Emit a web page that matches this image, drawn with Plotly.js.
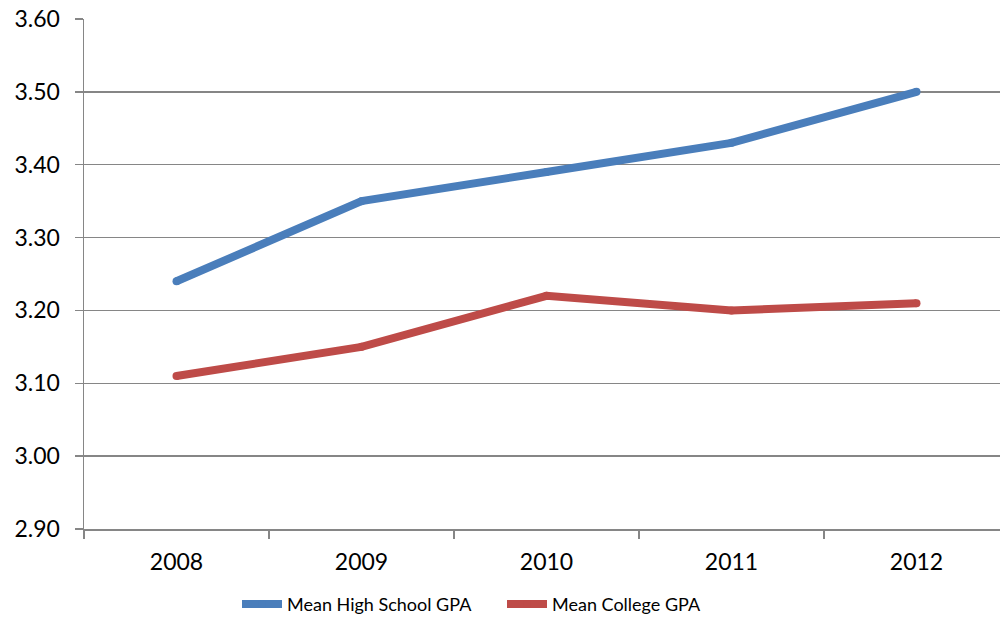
<!DOCTYPE html>
<html>
<head>
<meta charset="utf-8">
<script src="https://cdn.plot.ly/plotly-3.0.1.min.js"></script>
<style>html,body{margin:0;padding:0;overflow:hidden;background:#fff;}#chart{width:1000px;height:618px;}</style>
</head>
<body>
<div id="chart"></div>
<script>
const years = ["2008", "2009", "2010", "2011", "2012"];
const highSchoolGPA = [3.24, 3.35, 3.39, 3.43, 3.50];
const collegeGPA = [3.11, 3.15, 3.22, 3.20, 3.21];
const yTicks = [2.9, 3.0, 3.1, 3.2, 3.3, 3.4, 3.5, 3.6];

const font = "Lato, 'Open Sans', sans-serif";
const traces = [
  {x: years, y: highSchoolGPA, name: "Mean High School GPA", type: "scatter", mode: "lines+markers",
   line: {color: "#4A7EBB", width: 8}, marker: {color: "#4A7EBB", size: 8}},
  {x: years, y: collegeGPA, name: "Mean College GPA", type: "scatter", mode: "lines+markers",
   line: {color: "#BE4B48", width: 8}, marker: {color: "#BE4B48", size: 8}}
];
const layout = {
  width: 1000, height: 618,
  margin: {l: 84, r: 0, t: 19, b: 89},
  paper_bgcolor: "#fff", plot_bgcolor: "#fff",
  font: {family: font, color: "#000"},
  showlegend: true,
  legend: {orientation: "h", xref: "container", x: 0.237, xanchor: "left", yref: "container", y: 0.022, yanchor: "middle",
           font: {size: 18, family: font}, itemwidth: 40, entrywidth: 210, entrywidthmode: "pixels", tracegroupgap: 0},
  xaxis: {type: "category", range: [-0.5, 4.4514], tickson: "boundaries", ticks: "outside", ticklen: 8,
          tickcolor: "#868686", tickwidth: 1.5, showgrid: false, zeroline: false,
          showline: true, linecolor: "#868686", linewidth: 1.5, ticklabelstandoff: 12,
          tickfont: {size: 23, family: font}, fixedrange: true},
  yaxis: {range: [2.9, 3.6], tickvals: yTicks, ticktext: yTicks.map(v => v.toFixed(2)),
          ticks: "outside", ticklen: 8, tickcolor: "#868686", tickwidth: 1.5,
          showgrid: true, gridcolor: "#868686", gridwidth: 1.5, zeroline: false,
          showline: true, linecolor: "#868686", linewidth: 1.5, ticklabelstandoff: 10,
          tickfont: {size: 23, family: font}, fixedrange: true}
};
Plotly.newPlot("chart", traces, layout, {displayModeBar: false, staticPlot: true});
</script>
</body>
</html>
